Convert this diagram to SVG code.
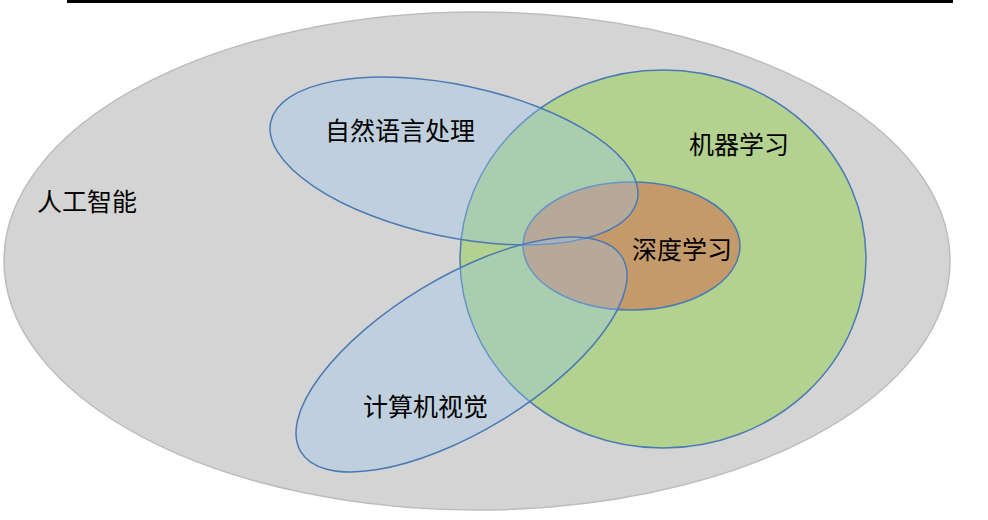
<svg xmlns="http://www.w3.org/2000/svg" width="988" height="520" viewBox="0 0 988 520">
<style>
.lbl{font-family:"Noto Sans CJK SC","Noto Sans",sans-serif;font-size:25px;fill:#000}
.blue{fill:#9bc6ee;fill-opacity:0.35;stroke:#4a7ab5;stroke-width:1.5}
</style>
<rect width="988" height="520" fill="#fff"/>
<line x1="67" y1="1.5" x2="953" y2="1.5" stroke="#000" stroke-width="3"/>
<g id="ai">
<ellipse cx="477" cy="261" rx="473" ry="249" fill="#d4d4d4" stroke="#bcbcbc" stroke-width="1.5"/>
<text class="lbl" x="37" y="211">人工智能</text>
</g>
<g id="ml">
<ellipse cx="663" cy="259" rx="203" ry="189" fill="#b3d18f" stroke="#4a7ab5" stroke-width="1.5"/>
</g>
<g id="dl">
<ellipse cx="631.5" cy="246" rx="108.5" ry="64" fill="#c59a6a" stroke="#4a7ab5" stroke-width="1.5"/>
</g>
<g id="nlp">
<ellipse class="blue" cx="454" cy="161" rx="187.4" ry="76" transform="rotate(12 454 161)"/>
</g>
<g id="cv">
<ellipse class="blue" cx="461.5" cy="354.5" rx="187.8" ry="77" transform="rotate(-31.2 461.5 354.5)"/>
</g>
<g id="labels">
<text class="lbl" x="325" y="140">自然语言处理</text>
<text class="lbl" x="689" y="154">机器学习</text>
<text class="lbl" x="632" y="259">深度学习</text>
<text class="lbl" x="363" y="416">计算机视觉</text>
</g>
<g id="connectors"/>
</svg>
